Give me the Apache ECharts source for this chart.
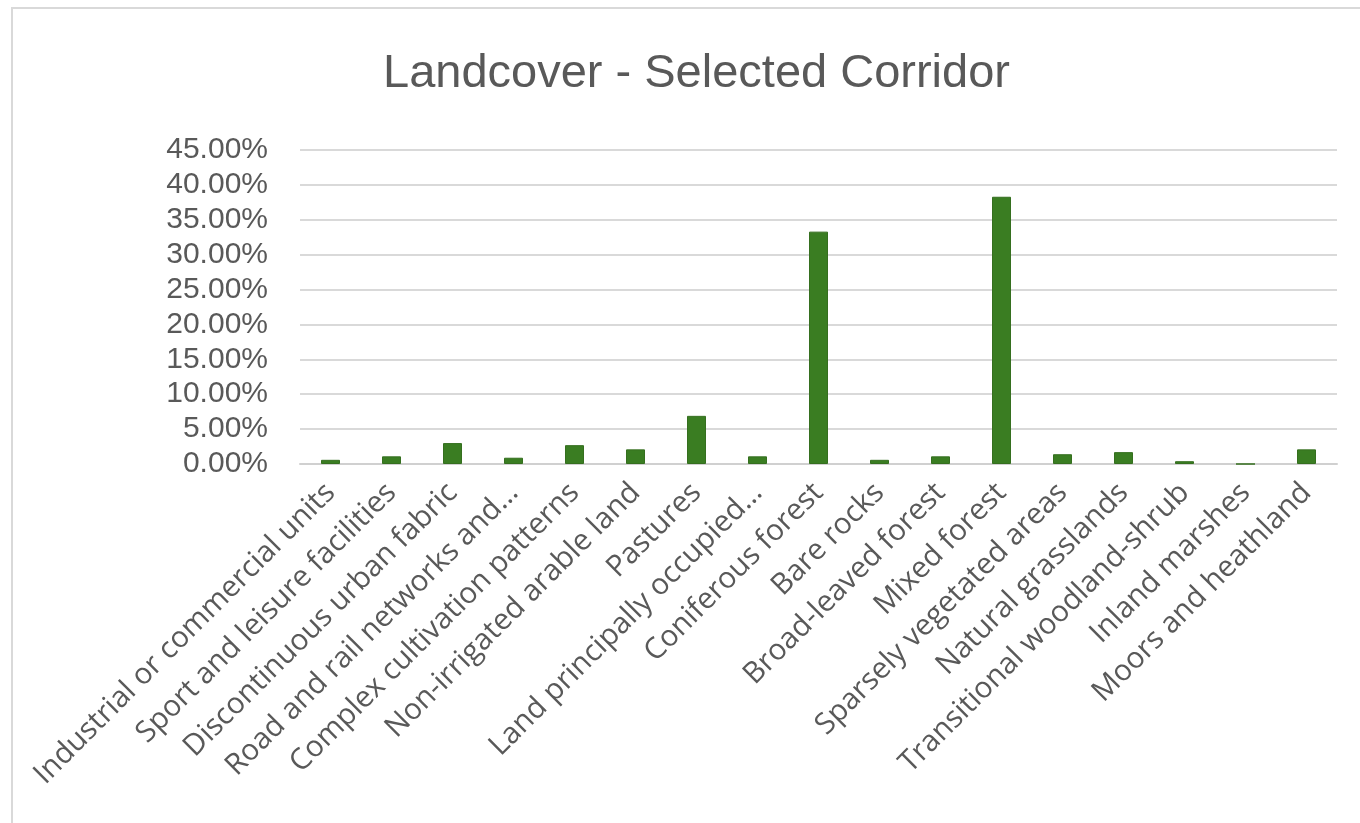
<!DOCTYPE html>
<html>
<head>
<meta charset="utf-8">
<script src="https://cdn.jsdelivr.net/npm/echarts@6/dist/echarts.min.js"></script>
<style>html,body{margin:0;padding:0;background:#fff;}#c{width:1360px;height:823px;}</style>
</head>
<body>
<div id="c"></div>
<script>
const categories = [
  "Industrial or commercial units",
  "Sport and leisure facilities",
  "Discontinuous urban fabric",
  "Road and rail networks and…",
  "Complex cultivation patterns",
  "Non-irrigated arable land",
  "Pastures",
  "Land principally occupied…",
  "Coniferous forest",
  "Bare rocks",
  "Broad-leaved forest",
  "Mixed forest",
  "Sparsely vegetated areas",
  "Natural grasslands",
  "Transitional woodland-shrub",
  "Inland marshes",
  "Moors and heathland"
];
const values = [0.6, 1.1, 3.0, 0.9, 2.7, 2.1, 6.9, 1.1, 33.3, 0.6, 1.1, 38.3, 1.4, 1.7, 0.4, 0.0, 2.1];
const yMax = 45;
const yInterval = 5;

const chart = echarts.init(document.getElementById('c'));
chart.setOption({
  animation: false,
  backgroundColor: '#fff',
  title: {
    text: 'Landcover - Selected Corridor',
    left: 378,
    top: 46,
    textStyle: { fontFamily: 'Liberation Sans, Arial, sans-serif', fontSize: 47, fontWeight: 'normal', color: '#595959' }
  },
  graphic: [{
    type: 'rect', silent: true,
    shape: { x: 12, y: 8, width: 1400, height: 900 },
    style: { fill: 'none', stroke: '#d9d9d9', lineWidth: 2 }
  }],
  grid: { left: 300, right: 23, top: 150, bottom: 359 },
  xAxis: {
    type: 'category',
    data: categories,
    axisLine: { show: true, lineStyle: { color: '#d0d0d0', width: 2 } },
    axisTick: { show: false },
    axisLabel: {
      interval: 0, rotate: 45, margin: 24,
      fontFamily: 'Open Sans, Liberation Sans, sans-serif', fontSize: 29.5, color: '#595959'
    }
  },
  yAxis: {
    type: 'value',
    min: 0, max: yMax, interval: yInterval,
    axisLine: { show: false },
    axisTick: { show: false },
    splitLine: { lineStyle: { color: '#d9d9d9', width: 2 } },
    axisLabel: {
      margin: 32,
      fontFamily: 'Liberation Sans, Arial, sans-serif', fontSize: 30, color: '#595959',
      formatter: v => v.toFixed(2) + '%'
    }
  },
  series: [{
    type: 'bar',
    data: values,
    barWidth: 19,
    itemStyle: { color: '#3a7d22', borderColor: '#356f1f', borderWidth: 1 }
  }]
});
</script>
</body>
</html>
